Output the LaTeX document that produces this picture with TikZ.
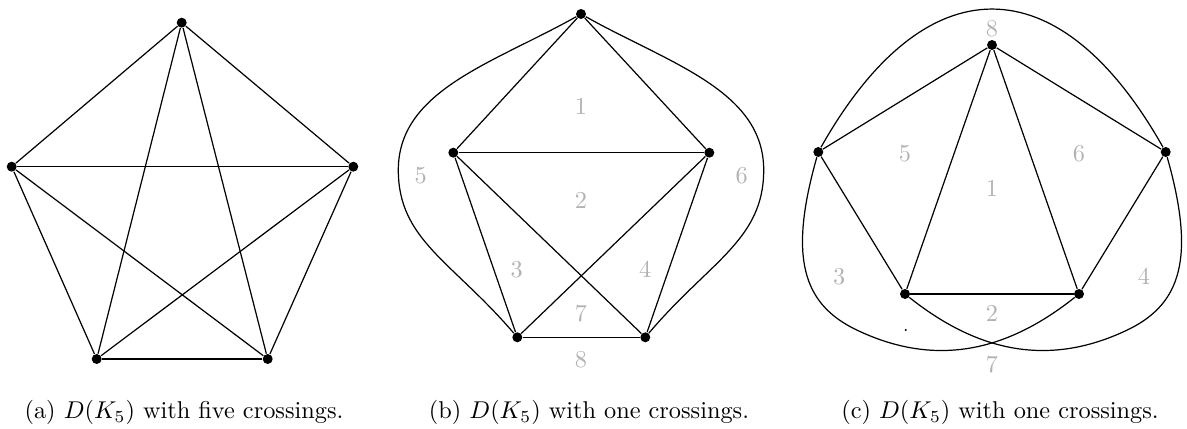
\documentclass[tikz,border=0pt]{standalone}
\tikzset{
  vtx/.style={circle, fill=black, inner sep=0pt, minimum size=4.1pt},
  reg/.style={text=black!30, inner sep=0pt},
  edg/.style={line width=0.5pt},
  captext/.style={anchor=base, inner sep=0pt},
}
\begin{document}
\begin{tikzpicture}[x=0.4115pt, y=-0.4115pt]
\useasboundingbox (0,0) rectangle (1187,429);

% ---------- panel (a)
\node[vtx] (a1) at (181.7,22.7) {};
\node[vtx] (a2) at (11.7,166.7) {};
\node[vtx] (a3) at (353.3,166.7) {};
\node[vtx] (a4) at (96.7,359) {};
\node[vtx] (a5) at (267.7,359) {};
\foreach \u/\v in {a1/a2,a1/a3,a1/a4,a1/a5,a2/a3,a2/a4,a2/a5,a3/a4,a3/a5,a4/a5}
  \draw[edg] (\u) -- (\v);
\node[captext] (capa) at (184,418.5) {(a) $D(K_5)$ with five crossings.};

% ---------- panel (b)
\node[vtx] (b1) at (581,14) {};
\node[vtx] (b2) at (453.3,152.7) {};
\node[vtx] (b3) at (709.3,152.7) {};
\node[vtx] (b4) at (517.3,337.3) {};
\node[vtx] (b5) at (645.3,337.3) {};
\foreach \u/\v in {b1/b2,b1/b3,b2/b3,b2/b4,b2/b5,b3/b4,b3/b5,b4/b5}
  \draw[edg] (\u) -- (\v);
\draw[edg] (b1) .. controls (494,63) and (398.3,90) .. (398.3,170)
               .. controls (398.3,240) and (452.3,261.3) .. (b4);
\draw[edg] (b1) .. controls (668,63) and (763.7,90) .. (763.7,170)
               .. controls (763.7,240) and (709.7,261.3) .. (b5);
\node[reg] (rb1) at (581,106.7) {1};
\node[reg] (rb2) at (581,200) {2};
\node[reg] (rb3) at (516.7,269.3) {3};
\node[reg] (rb4) at (645.3,269.3) {4};
\node[reg] (rb5) at (420.7,176) {5};
\node[reg] (rb6) at (741.7,176) {6};
\node[reg] (rb7) at (581,313.3) {7};
\node[reg] (rb8) at (581,360) {8};
\node[captext] (capb) at (589,418.5) {(b) $D(K_5)$ with one crossings.};

% ---------- panel (c)
\node[vtx] (c1) at (992,45) {};
\node[vtx] (c2) at (818.3,152) {};
\node[vtx] (c3) at (1165.7,152) {};
\node[vtx] (c4) at (905,294) {};
\node[vtx] (c5) at (1079,294) {};
\foreach \u/\v in {c1/c2,c1/c3,c1/c4,c1/c5,c2/c4,c3/c5,c4/c5}
  \draw[edg] (\u) -- (\v);
\draw[edg] (c2) .. controls (925,-37) and (1059,-37) .. (c3);
\draw[edg] (c2) .. controls (788.3,257.6) and (802.7,304.2) .. (856.7,330)
               .. controls (937.7,368.7) and (1008.8,349.8) .. (c5);
\draw[edg] (c3) .. controls (1195.7,257.6) and (1181.3,304.2) .. (1127.3,330)
               .. controls (1046.3,368.7) and (975.2,349.8) .. (c4);
\node[reg] (rc8) at (992,28.3) {8};
\node[reg] (rc5) at (905,153.3) {5};
\node[reg] (rc6) at (1079,153.3) {6};
\node[reg] (rc1) at (992,188.3) {1};
\node[reg] (rc3) at (839.3,276.7) {3};
\node[reg] (rc4) at (1144,276.7) {4};
\node[reg] (rc2) at (992,313.3) {2};
\node[reg] (rc7) at (992,365) {7};
\fill (905.7,330) circle (0.5pt);
\node[captext] (capc) at (1000,418.5) {(c) $D(K_5)$ with one crossings.};
\end{tikzpicture}
\end{document}
